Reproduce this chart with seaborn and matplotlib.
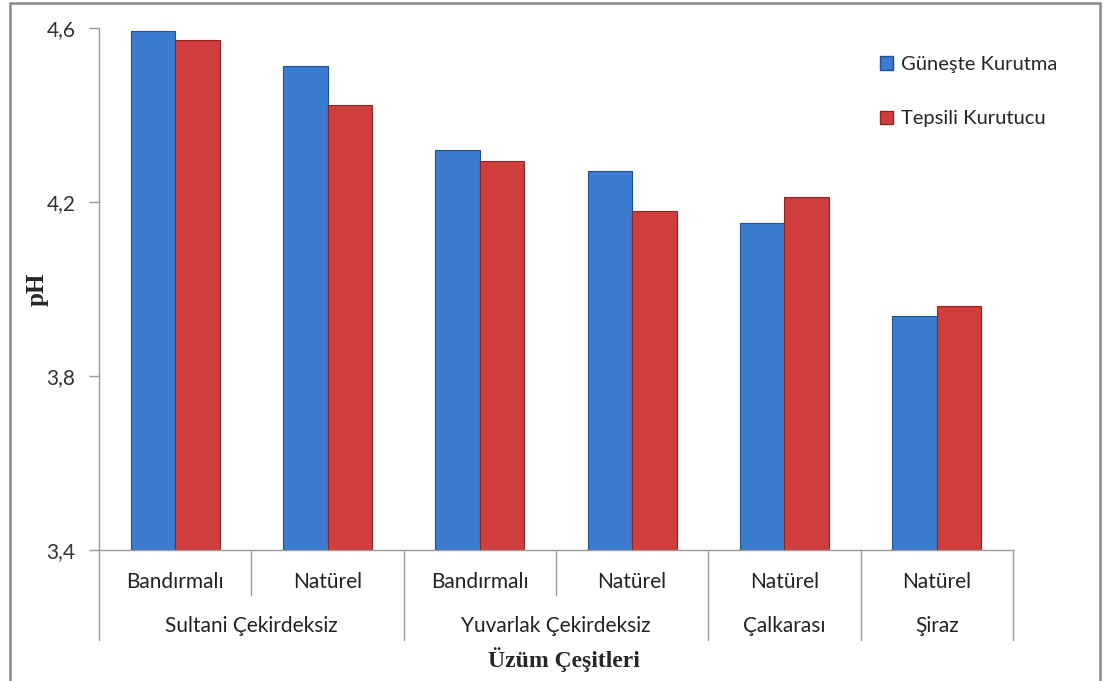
import matplotlib
matplotlib.use("Agg")
import matplotlib.pyplot as plt
from matplotlib.patches import Rectangle, Patch
from itertools import groupby
import pandas as pd
import seaborn as sns

# grape variety (outer level) and processing type (inner level)
groups = ["Sultani Çekirdeksiz", "Sultani Çekirdeksiz", "Yuvarlak Çekirdeksiz",
          "Yuvarlak Çekirdeksiz", "Çalkarası", "Şiraz"]
types = ["Bandırmalı", "Natürel", "Bandırmalı", "Natürel", "Natürel", "Natürel"]
series = ["Güneşte Kurutma", "Tepsili Kurutucu"]
gunes = [4.593, 4.513, 4.320, 4.271, 4.152, 3.938]
tepsi = [4.572, 4.423, 4.294, 4.179, 4.211, 3.961]
yticks = [3.4, 3.8, 4.2, 4.6]

BLUE = "#3b7bd0"
RED = "#d03d3d"
EDGE = {BLUE: "#24508e", RED: "#8e2424"}

keys = [f"{g}|{t}" for g, t in zip(groups, types)]
df = pd.DataFrame({
    "key": keys * 2,
    "pH": gunes + tepsi,
    "seri": [series[0]] * len(keys) + [series[1]] * len(keys),
})

sns.set_style("white")
plt.rcParams["font.family"] = ["Lato", "DejaVu Sans"]

W, H = 1105, 681
fig = plt.figure(figsize=(W / 100, H / 100), dpi=100)
ax = fig.add_axes([99 / W, 1 - 550 / H, (1013 - 99) / W, (550 - 28) / H])

sns.barplot(data=df, x="key", y="pH", hue="seri", order=keys, hue_order=series,
            palette=[BLUE, RED], width=0.585, gap=0, saturation=1,
            legend=False, ax=ax)

for cont, col in zip(ax.containers, [BLUE, RED]):
    for bar in cont:
        bar.set_edgecolor(EDGE[col])
        bar.set_linewidth(0.8)

ax.set_ylim(3.4, 4.6)
ax.set_xlim(-0.5, len(keys) - 0.5)
ax.set_yticks(yticks)
ax.set_yticklabels([f"{v:.1f}".replace(".", ",") for v in yticks],
                   fontsize=15, color="#333333")
ax.tick_params(axis="y", left=True, length=7, width=1, color="#9a9a9a", pad=10)
ax.set_xticks([])
ax.set_xlabel("")
ax.set_ylabel("")
for s in ["top", "right"]:
    ax.spines[s].set_visible(False)
for s in ["left", "bottom"]:
    ax.spines[s].set_color("#9a9a9a")
    ax.spines[s].set_linewidth(1)

# two-level category axis
tr = ax.get_xaxis_transform()
axh = 550 - 28
short = -(595 - 550) / axh
long_ = -(640 - 550) / axh
row1 = -(582 - 550) / axh
row2 = -(626 - 550) / axh

for i, t in enumerate(types):
    ax.text(i, row1, t, transform=tr, ha="center", va="center",
            fontsize=15, color="#222222")

boundaries = {-0.5, len(keys) - 0.5}
pos = 0
for g, items in groupby(groups):
    n = len(list(items))
    ax.text(pos + (n - 1) / 2, row2, g, transform=tr, ha="center", va="center",
            fontsize=15, color="#222222")
    boundaries.add(pos - 0.5)
    pos += n

for i in range(len(keys) + 1):
    x = i - 0.5
    y0 = long_ if x in boundaries else short
    ax.plot([x, x], [0, y0], transform=tr, color="#9a9a9a", lw=1, clip_on=False)

fig.text(564 / W, 1 - 660 / H, "Üzüm Çeşitleri", ha="center", va="center",
         family="Liberation Serif", fontweight="bold", fontsize=17)
fig.text(37 / W, 1 - 289 / H, "pH", ha="center", va="center", rotation=90,
         family="Liberation Serif", fontweight="bold", fontsize=18)

handles = [Patch(facecolor=BLUE, edgecolor=EDGE[BLUE]),
           Patch(facecolor=RED, edgecolor=EDGE[RED])]
ax.legend(handles, series, loc="upper left", bbox_to_anchor=(862 / W, 1 - 38 / H),
          bbox_transform=fig.transFigure, frameon=False, fontsize=14.5,
          handlelength=0.65, handleheight=0.65, handletextpad=0.4, labelspacing=1.85)

# outer chart frame
fig.add_artist(Rectangle((10 / W, -0.01), (1100 - 10) / W, (H - 3) / H + 0.01,
                         transform=fig.transFigure, fill=False,
                         edgecolor="#8a8a8a", linewidth=1.8))

fig.savefig("out.png", dpi=100)
